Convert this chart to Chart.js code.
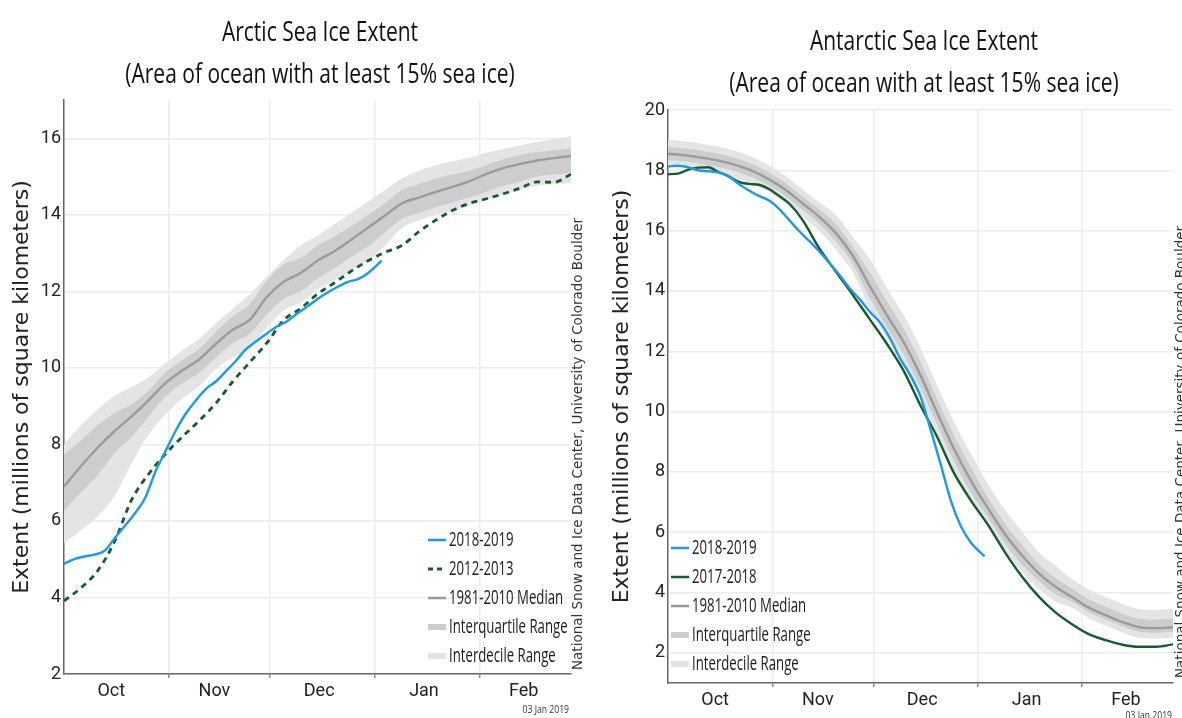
<!DOCTYPE html>
<html>
<head>
<meta charset="utf-8">
<script src="https://cdn.jsdelivr.net/npm/chart.js@4.4.1/dist/chart.umd.min.js"></script>
<style>
  html, body { margin: 0; padding: 0; background: #fff; }
  #wrap { position: relative; width: 1182px; height: 718px; overflow: hidden; }
  .box { position: absolute; top: 0; height: 718px; }
  #arcticBox { left: 0; width: 590px; }
  #antarcticBox { left: 590px; width: 592px; }
</style>
</head>
<body>
<div id="wrap">
  <div class="box" id="arcticBox"><canvas id="arctic"></canvas></div>
  <div class="box" id="antarcticBox"><canvas id="antarctic"></canvas></div>
</div>
<script>
// days counted from 1 Oct
const monthLabels = ['Oct', 'Nov', 'Dec', 'Jan', 'Feb'];
const monthLabelDays = [14, 44.5, 75.5, 106.5, 136];
const monthStartDays = [31, 61, 92, 123];

const arcticYTicks = [2, 4, 6, 8, 10, 12, 14, 16];
const antarcticYTicks = [2, 4, 6, 8, 10, 12, 14, 16, 18, 20];

// Arctic
const arcticDays = [0, 5, 10, 15, 20, 25, 30, 35, 40, 45, 50, 55, 60, 65, 70, 75, 80, 85, 90, 95, 100, 105, 110, 115, 120, 125, 130, 135, 140, 145, 150];
const arcticMedian = [6.9, 7.43, 7.92, 8.35, 8.73, 9.15, 9.6, 9.93, 10.22, 10.63, 11.0, 11.26, 11.85, 12.25, 12.48, 12.8, 13.05, 13.35, 13.67, 13.98, 14.3, 14.45, 14.6, 14.73, 14.88, 15.07, 15.22, 15.33, 15.42, 15.48, 15.54];
const arcticP75 = [7.73, 8.1, 8.5, 8.82, 9.05, 9.4, 9.88, 10.2, 10.5, 10.95, 11.35, 11.67, 12.28, 12.7, 12.87, 13.2, 13.43, 13.7, 14.0, 14.3, 14.65, 14.8, 14.95, 15.05, 15.15, 15.3, 15.45, 15.57, 15.64, 15.69, 15.73];
const arcticP25 = [6.27, 6.75, 7.2, 7.78, 8.2, 8.72, 9.25, 9.6, 9.87, 10.28, 10.65, 10.9, 11.4, 11.8, 12.0, 12.33, 12.6, 12.9, 13.17, 13.55, 13.9, 14.05, 14.2, 14.33, 14.45, 14.6, 14.75, 14.87, 15.0, 15.05, 15.1];
const arcticP90 = [8.0, 8.5, 8.92, 9.27, 9.5, 9.75, 10.12, 10.45, 10.76, 11.17, 11.55, 11.93, 12.38, 12.82, 13.2, 13.45, 13.75, 14.05, 14.35, 14.65, 14.95, 15.15, 15.3, 15.4, 15.5, 15.62, 15.72, 15.82, 15.9, 15.98, 16.06];
const arcticP10 = [5.42, 5.75, 6.12, 6.65, 7.5, 8.25, 8.78, 9.2, 9.52, 9.98, 10.28, 10.5, 11.05, 11.5, 11.7, 12.05, 12.27, 12.55, 12.8, 13.2, 13.65, 13.85, 14.0, 14.1, 14.25, 14.4, 14.52, 14.65, 14.76, 14.8, 14.84];
const arctic2012 = [3.91, 4.25, 4.7, 5.47, 6.55, 7.22, 7.75, 8.2, 8.62, 9.08, 9.65, 10.15, 10.65, 11.25, 11.55, 11.93, 12.22, 12.53, 12.8, 13.02, 13.2, 13.56, 13.86, 14.12, 14.3, 14.42, 14.55, 14.7, 14.86, 14.85, 15.06];
const arctic2018Days = [0, 3, 6, 9, 12, 15, 18, 21, 24, 27, 30, 33, 36, 39, 42, 45, 48, 51, 54, 57, 60, 63, 66, 69, 72, 75, 78, 81, 84, 87, 90, 94];
const arctic2018 = [4.88, 5.0, 5.07, 5.12, 5.22, 5.55, 5.87, 6.2, 6.6, 7.28, 7.82, 8.35, 8.8, 9.15, 9.45, 9.65, 9.92, 10.2, 10.5, 10.7, 10.9, 11.08, 11.22, 11.42, 11.6, 11.8, 11.97, 12.12, 12.25, 12.32, 12.48, 12.8];

// Antarctic
const antarcticDays = [0, 5, 10, 15, 20, 25, 30, 35, 40, 45, 50, 55, 60, 65, 70, 75, 80, 85, 90, 95, 100, 105, 110, 115, 120, 125, 130, 135, 140, 145, 150];
const antarcticMedian = [18.55, 18.5, 18.42, 18.32, 18.18, 17.98, 17.7, 17.35, 16.9, 16.45, 15.9, 15.15, 14.15, 13.2, 12.3, 11.2, 9.95, 8.75, 7.7, 6.8, 5.95, 5.25, 4.65, 4.2, 3.85, 3.5, 3.25, 3.02, 2.85, 2.82, 2.85];
const antarcticP90 = [19.01, 18.96, 18.88, 18.78, 18.64, 18.44, 18.16, 17.81, 17.36, 16.93, 16.5, 15.78, 15.05, 14.1, 13.2, 12.1, 10.85, 9.65, 8.6, 7.6, 6.75, 6.05, 5.35, 4.9, 4.45, 4.1, 3.85, 3.62, 3.45, 3.42, 3.45];
const antarcticP75 = [18.77, 18.72, 18.65, 18.55, 18.41, 18.21, 17.93, 17.58, 17.13, 16.7, 16.2, 15.45, 14.6, 13.65, 12.75, 11.65, 10.4, 9.2, 8.15, 7.15, 6.3, 5.6, 4.95, 4.5, 4.13, 3.78, 3.53, 3.3, 3.13, 3.1, 3.13];
const antarcticP25 = [18.33, 18.29, 18.21, 18.11, 17.97, 17.77, 17.49, 17.13, 16.68, 16.22, 15.62, 14.87, 13.75, 12.8, 11.9, 10.8, 9.55, 8.35, 7.3, 6.5, 5.65, 4.95, 4.4, 3.95, 3.7, 3.35, 3.1, 2.87, 2.7, 2.67, 2.7];
const antarcticP10 = [18.11, 18.07, 17.99, 17.89, 17.75, 17.55, 17.27, 16.9, 16.45, 15.98, 15.35, 14.6, 13.4, 12.45, 11.55, 10.45, 9.2, 8.0, 6.95, 6.25, 5.4, 4.7, 4.15, 3.7, 3.5, 3.15, 2.9, 2.67, 2.5, 2.47, 2.5];
const antarctic2017Days = [0, 3, 6, 9, 12, 15, 18, 21, 24, 27, 30, 33, 36, 40, 45, 50, 55, 60, 65, 70, 75, 80, 85, 90, 95, 100, 105, 110, 115, 120, 125, 130, 135, 140, 145, 150];
const antarctic2017 = [17.87, 17.89, 18.02, 18.09, 18.1, 17.94, 17.8, 17.62, 17.55, 17.52, 17.38, 17.15, 16.9, 16.35, 15.4, 14.62, 13.85, 13.05, 12.25, 11.35, 10.2, 9.15, 7.95, 7.05, 6.25, 5.35, 4.55, 3.88, 3.35, 2.95, 2.62, 2.42, 2.27, 2.2, 2.2, 2.28];
const antarctic2018Days = [0, 3, 6, 9, 12, 15, 18, 21, 24, 27, 30, 33, 36, 39, 42, 45, 48, 51, 54, 57, 60, 63, 66, 69, 72, 75, 78, 81, 84, 87, 90, 94];
const antarctic2018 = [18.13, 18.15, 18.1, 18.0, 17.97, 17.93, 17.8, 17.55, 17.33, 17.15, 17.0, 16.72, 16.35, 15.98, 15.65, 15.3, 14.92, 14.52, 14.08, 13.72, 13.3, 12.95, 12.42, 11.75, 11.2, 10.5, 9.4, 8.25, 7.05, 6.2, 5.65, 5.2];

const TICK_FONT = 'Roboto';
// no condensed face is installed, so narrow text is Open Sans squeezed sideways
const TITLE_SQUEEZE = 0.75;
const LEGEND_SQUEEZE = 0.66;
const BLUE = '#1a9bea';
const GREEN = '#145c2c';
const MEDIAN = '#9b9b9b';
const IQR = '#cdcdcd';
const IDR = '#e4e4e4';
const GRID = '#ececec';

const pts = (xs, ys) => xs.map((x, i) => ({ x: x, y: ys[i] }));

function lineDs(label, xs, ys, color, extra) {
  return Object.assign({
    label: label,
    data: pts(xs, ys),
    borderColor: color,
    backgroundColor: color,
    borderWidth: 2.4,
    pointRadius: 0,
    cubicInterpolationMode: 'monotone',
    fill: false
  }, extra || {});
}

function bandDs(label, xs, ys, fillColor, fillTo) {
  return {
    label: label,
    data: pts(xs, ys),
    borderColor: 'rgba(0,0,0,0)',
    borderWidth: 0,
    pointRadius: 0,
    cubicInterpolationMode: 'monotone',
    backgroundColor: fillColor,
    fill: fillTo
  };
}

function narrowText(ctx, text, x, y, size, squeeze, align, color) {
  ctx.save();
  ctx.font = size + "px 'Open Sans'";
  ctx.fillStyle = color;
  ctx.textAlign = align;
  ctx.textBaseline = 'middle';
  ctx.translate(x, y);
  ctx.scale(squeeze, 1);
  ctx.fillText(text, 0, 0);
  ctx.restore();
}

function overlay(cfg) {
  return {
    id: 'overlay',
    afterDraw(chart) {
      const ctx = chart.ctx;
      narrowText(ctx, cfg.title[0], cfg.titleX, cfg.titleY, 28, TITLE_SQUEEZE, 'center', '#111');
      narrowText(ctx, cfg.title[1], cfg.titleX, cfg.titleY + 42, 28, TITLE_SQUEEZE, 'center', '#111');

      cfg.legend.forEach((item, i) => {
        const y = cfg.legendY + i * cfg.legendStep;
        ctx.save();
        ctx.beginPath();
        ctx.setLineDash(item.dash || []);
        ctx.strokeStyle = item.color;
        ctx.lineWidth = item.width;
        ctx.moveTo(cfg.legendX, y);
        ctx.lineTo(cfg.legendX + 18, y);
        ctx.stroke();
        ctx.restore();
        narrowText(ctx, item.label, cfg.legendX + 21, y, 20, LEGEND_SQUEEZE, 'left', '#1a1a1a');
      });

      narrowText(ctx, '03 Jan 2019', cfg.dateX, cfg.dateY, 11.5, TITLE_SQUEEZE, 'right', '#333');

      ctx.save();
      ctx.translate(cfg.creditX, cfg.creditY);
      ctx.rotate(-Math.PI / 2);
      ctx.font = "13.5px 'DejaVu Sans'";
      ctx.textAlign = 'left';
      ctx.textBaseline = 'middle';
      ctx.fillStyle = '#333';
      ctx.fillText('National Snow and Ice Data Center, University of Colorado Boulder', 0, 0);
      ctx.restore();
    }
  };
}

function makeChart(id, opt) {
  return new Chart(document.getElementById(id), {
    type: 'line',
    data: { datasets: opt.datasets },
    options: {
      responsive: true,
      maintainAspectRatio: false,
      animation: false,
      devicePixelRatio: 1,
      layout: { padding: opt.padding },
      plugins: {
        legend: { display: false },
        tooltip: { enabled: false },
        title: { display: false }
      },
      scales: {
        x: {
          type: 'linear',
          min: 0,
          max: 150,
          afterBuildTicks: s => {
            s.ticks = monthLabelDays.concat(monthStartDays).sort((a, b) => a - b).map(v => ({ value: v }));
          },
          afterFit: s => { s.height = opt.xHeight; },
          border: { color: '#666', width: 1.5 },
          grid: {
            lineWidth: 1.5,
            tickLength: 4,
            color: c => (c.tick && monthStartDays.includes(c.tick.value)) ? GRID : 'rgba(0,0,0,0)',
            tickColor: c => (c.tick && monthStartDays.includes(c.tick.value)) ? '#888' : 'rgba(0,0,0,0)'
          },
          ticks: {
            autoSkip: false,
            maxRotation: 0,
            padding: 3,
            color: '#222',
            font: { family: TICK_FONT, size: 18 },
            callback: v => {
              const i = monthLabelDays.indexOf(v);
              return i >= 0 ? monthLabels[i] : '';
            }
          }
        },
        y: {
          min: opt.yMin,
          max: opt.yMax,
          afterBuildTicks: s => { s.ticks = opt.yTicks.map(v => ({ value: v })); },
          afterFit: s => { s.width = opt.yWidth; },
          border: { color: '#666', width: 1.5 },
          grid: { color: GRID, lineWidth: 1.5, drawTicks: false },
          ticks: { padding: 3, color: '#222', font: { family: TICK_FONT, size: 18 } },
          title: {
            display: true,
            text: 'Extent (millions of square kilometers)',
            color: '#222',
            font: { family: "'DejaVu Sans'", size: 22 },
            padding: { top: opt.yTitlePad, bottom: 0 }
          }
        }
      }
    },
    plugins: [overlay(opt.overlay)]
  });
}

makeChart('arctic', {
  padding: { top: 100, right: 19, bottom: 0, left: 0 },
  xHeight: 44,
  yWidth: 64,
  yTitlePad: 9,
  yMin: 2,
  yMax: 17,
  yTicks: arcticYTicks,
  datasets: [
    lineDs('2018-2019', arctic2018Days, arctic2018, BLUE),
    lineDs('2012-2013', arcticDays, arctic2012, GREEN, { borderDash: [6, 5], borderWidth: 2.8 }),
    lineDs('1981-2010 Median', arcticDays, arcticMedian, MEDIAN),
    bandDs('Interquartile Range', arcticDays, arcticP75, IQR, '+1'),
    bandDs('p25', arcticDays, arcticP25, IQR, false),
    bandDs('Interdecile Range', arcticDays, arcticP90, IDR, '+1'),
    bandDs('p10', arcticDays, arcticP10, IDR, false)
  ],
  overlay: {
    title: ['Arctic Sea Ice Extent', '(Area of ocean with at least 15% sea ice)'],
    titleX: 320, titleY: 33,
    legendX: 428, legendY: 540, legendStep: 29,
    legend: [
      { label: '2018-2019', color: BLUE, width: 2.5 },
      { label: '2012-2013', color: GREEN, width: 2.8, dash: [5, 4] },
      { label: '1981-2010 Median', color: MEDIAN, width: 2.5 },
      { label: 'Interquartile Range', color: IQR, width: 6 },
      { label: 'Interdecile Range', color: IDR, width: 6 }
    ],
    dateX: 569, dateY: 710,
    creditX: 578, creditY: 670
  }
});

makeChart('antarctic', {
  padding: { top: 110, right: 9, bottom: 0, left: 0 },
  xHeight: 35,
  yWidth: 78,
  yTitlePad: 19,
  yMin: 1,
  yMax: 20,
  yTicks: antarcticYTicks,
  datasets: [
    lineDs('2018-2019', antarctic2018Days, antarctic2018, BLUE),
    lineDs('2017-2018', antarctic2017Days, antarctic2017, GREEN),
    lineDs('1981-2010 Median', antarcticDays, antarcticMedian, MEDIAN),
    bandDs('Interquartile Range', antarcticDays, antarcticP75, IQR, '+1'),
    bandDs('p25', antarcticDays, antarcticP25, IQR, false),
    bandDs('Interdecile Range', antarcticDays, antarcticP90, IDR, '+1'),
    bandDs('p10', antarcticDays, antarcticP10, IDR, false)
  ],
  overlay: {
    title: ['Antarctic Sea Ice Extent', '(Area of ocean with at least 15% sea ice)'],
    titleX: 334, titleY: 42,
    legendX: 81, legendY: 548, legendStep: 29,
    legend: [
      { label: '2018-2019', color: BLUE, width: 2.5 },
      { label: '2017-2018', color: GREEN, width: 2.5 },
      { label: '1981-2010 Median', color: MEDIAN, width: 2.5 },
      { label: 'Interquartile Range', color: IQR, width: 6 },
      { label: 'Interdecile Range', color: IDR, width: 6 }
    ],
    dateX: 582, dateY: 716,
    creditX: 591, creditY: 678
  }
});
</script>
</body>
</html>
